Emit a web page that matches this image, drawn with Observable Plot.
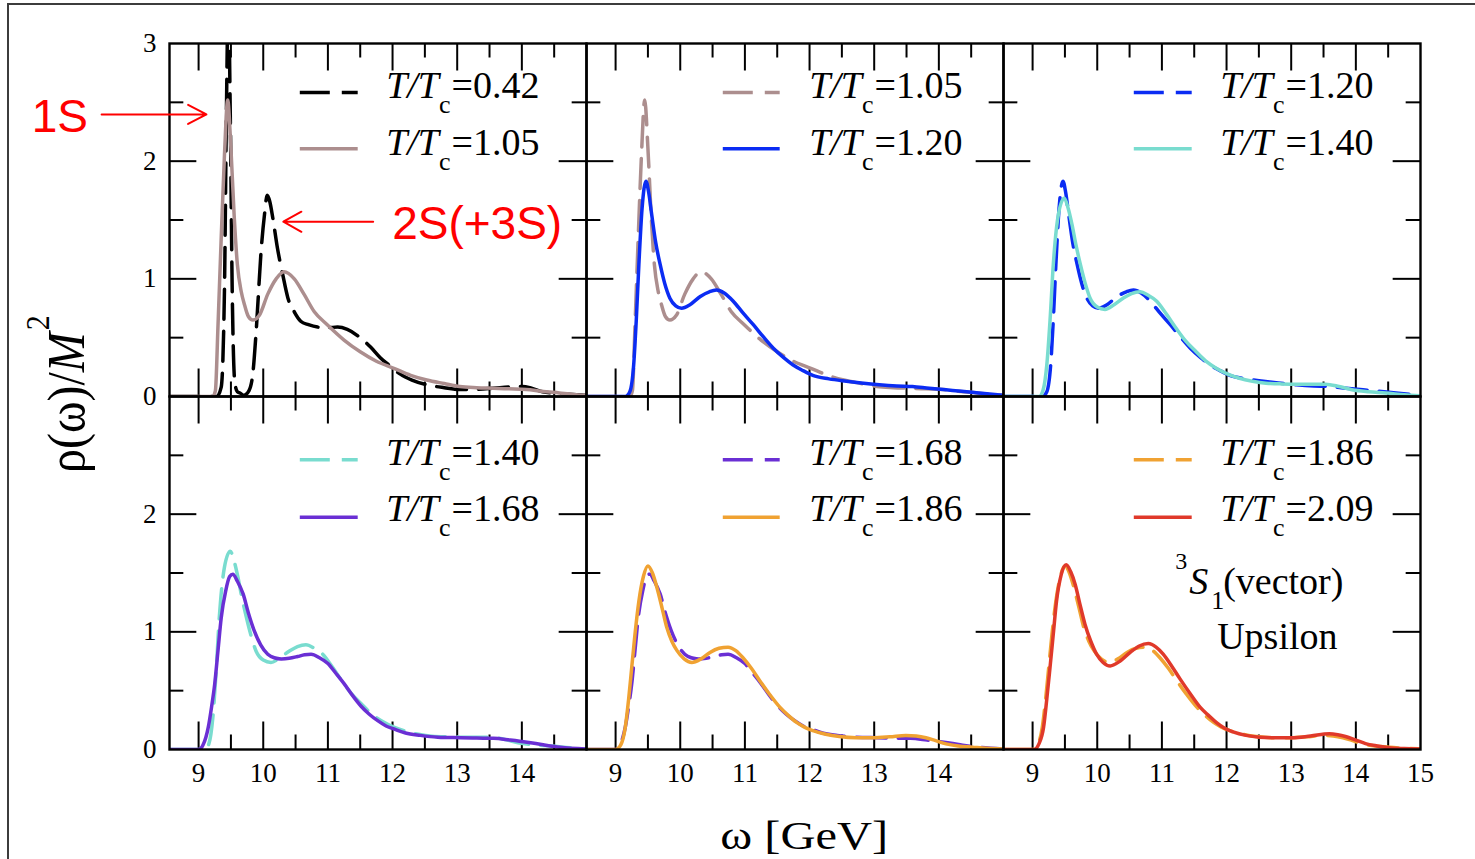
<!DOCTYPE html>
<html>
<head>
<meta charset="utf-8">
<script src="https://cdn.jsdelivr.net/npm/d3@7"></script>
<script src="https://cdn.jsdelivr.net/npm/@observablehq/plot@0.6"></script>
<style>
html, body { margin: 0; padding: 0; background: #fff; }
#wrap { position: relative; width: 1475px; height: 859px; overflow: hidden; background: #fff; }
#chart { position: absolute; left: 0; top: 0; }
#border { position: absolute; left: 7px; top: 3px; width: 2000px; height: 2000px; border-top: 2px solid #3c3c3c; border-left: 2px solid #3c3c3c; pointer-events: none; }
</style>
</head>
<body>
<div id="wrap"><div id="chart"></div><div id="border"></div></div>
<script>
// ---------------- data ----------------
const tempLabels   = ["0.42", "1.05", "1.20", "1.40", "1.68", "1.86", "2.09"];
const seriesColors = ["#000000", "#ac8e8e", "#0b2cf3", "#79dccf", "#6a2fd4", "#f0a232", "#e0392a"];

const omega042 = [8.55, 9.28, 9.35, 9.40, 9.43, 9.46, 9.49, 9.52, 9.56, 9.60, 9.64, 9.70, 9.78, 9.84, 9.89, 9.97, 10.02, 10.06, 10.10, 10.15, 10.22, 10.30, 10.38, 10.48, 10.58, 10.70, 10.84, 11.00, 11.15, 11.30, 11.50, 11.66, 11.81, 11.96, 12.12, 12.30, 12.53, 12.80, 13.04, 13.30, 13.55, 13.80, 14.01, 14.15, 14.32, 14.60, 14.85, 15.0];
const rho042   = [0, 0, 0.08, 0.9, 2.4, 3.4, 2.4, 0.9, 0.12, 0.04, 0.03, 0.01, 0.05, 0.2, 0.55, 1.26, 1.55, 1.71, 1.66, 1.51, 1.26, 1.04, 0.84, 0.72, 0.64, 0.61, 0.59, 0.585, 0.59, 0.57, 0.50, 0.42, 0.33, 0.26, 0.19, 0.14, 0.10, 0.075, 0.06, 0.062, 0.07, 0.08, 0.085, 0.07, 0.04, 0.025, 0.015, 0.01];

const omega105 = [8.55, 9.22, 9.26, 9.30, 9.35, 9.40, 9.45, 9.50, 9.55, 9.60, 9.66, 9.71, 9.77, 9.84, 9.94, 10.07, 10.20, 10.32, 10.48, 10.63, 10.79, 10.99, 11.25, 11.50, 11.75, 12.02, 12.28, 12.53, 12.80, 13.04, 13.30, 13.55, 13.80, 14.07, 14.30, 14.58, 14.80, 15.0];
const rho105   = [0, 0, 0.05, 0.6, 1.35, 2.05, 2.52, 2.11, 1.54, 1.12, 0.89, 0.78, 0.68, 0.65, 0.69, 0.87, 1.0, 1.06, 1.0, 0.87, 0.72, 0.61, 0.48, 0.38, 0.30, 0.24, 0.18, 0.14, 0.11, 0.085, 0.075, 0.07, 0.065, 0.06, 0.045, 0.03, 0.018, 0.01];

const omega120 = [8.55, 9.15, 9.22, 9.28, 9.32, 9.36, 9.41, 9.47, 9.51, 9.56, 9.62, 9.69, 9.76, 9.84, 9.93, 10.02, 10.15, 10.31, 10.45, 10.56, 10.68, 10.82, 10.97, 11.13, 11.28, 11.44, 11.60, 11.74, 11.90, 12.05, 12.30, 12.57, 12.80, 13.08, 13.35, 13.59, 13.85, 14.11, 14.35, 14.62, 15.0];
const rho120   = [0, 0, 0.04, 0.27, 0.65, 1.12, 1.60, 1.83, 1.74, 1.54, 1.31, 1.12, 0.96, 0.835, 0.77, 0.75, 0.78, 0.85, 0.89, 0.905, 0.88, 0.81, 0.71, 0.61, 0.51, 0.41, 0.33, 0.27, 0.22, 0.18, 0.15, 0.13, 0.115, 0.10, 0.09, 0.085, 0.07, 0.057, 0.045, 0.03, 0.01];

const omega140 = [8.55, 9.10, 9.16, 9.22, 9.27, 9.32, 9.40, 9.49, 9.55, 9.61, 9.67, 9.74, 9.81, 9.89, 10.00, 10.12, 10.26, 10.40, 10.53, 10.66, 10.79, 10.92, 11.07, 11.22, 11.37, 11.53, 11.68, 11.84, 12.02, 12.20, 12.40, 12.61, 12.85, 13.12, 13.33, 13.53, 13.74, 13.94, 14.20, 14.46, 14.75, 15.0];
const rho140   = [0, 0, 0.05, 0.27, 0.65, 1.12, 1.55, 1.685, 1.60, 1.46, 1.29, 1.12, 0.97, 0.835, 0.76, 0.74, 0.78, 0.835, 0.875, 0.89, 0.86, 0.81, 0.70, 0.58, 0.47, 0.38, 0.30, 0.24, 0.19, 0.155, 0.13, 0.113, 0.107, 0.105, 0.105, 0.105, 0.085, 0.057, 0.04, 0.03, 0.015, 0.005];

const omega168 = [8.55, 9.00, 9.07, 9.15, 9.20, 9.25, 9.30, 9.35, 9.42, 9.48, 9.53, 9.60, 9.69, 9.77, 9.86, 9.96, 10.07, 10.17, 10.28, 10.40, 10.53, 10.64, 10.74, 10.87, 11.00, 11.12, 11.25, 11.38, 11.51, 11.64, 11.77, 11.90, 12.02, 12.20, 12.43, 12.70, 13.05, 13.30, 13.56, 13.82, 14.08, 14.33, 14.59, 15.0];
const rho168   = [0, 0, 0.04, 0.19, 0.36, 0.56, 0.84, 1.12, 1.35, 1.47, 1.49, 1.43, 1.32, 1.16, 1.01, 0.89, 0.81, 0.78, 0.77, 0.775, 0.79, 0.805, 0.81, 0.78, 0.73, 0.65, 0.56, 0.46, 0.37, 0.30, 0.245, 0.20, 0.175, 0.14, 0.12, 0.105, 0.10, 0.097, 0.095, 0.08, 0.062, 0.04, 0.02, 0.005];

const omega186 = [8.55, 9.00, 9.08, 9.15, 9.20, 9.25, 9.30, 9.36, 9.43, 9.50, 9.57, 9.64, 9.72, 9.79, 9.87, 9.95, 10.06, 10.18, 10.32, 10.46, 10.60, 10.74, 10.86, 10.97, 11.10, 11.23, 11.38, 11.54, 11.67, 11.80, 11.92, 12.05, 12.25, 12.46, 12.72, 12.98, 13.24, 13.49, 13.65, 13.80, 13.95, 14.11, 14.30, 14.52, 14.75, 15.0];
const rho186   = [0, 0, 0.04, 0.19, 0.42, 0.70, 0.98, 1.26, 1.47, 1.56, 1.50, 1.375, 1.20, 1.04, 0.92, 0.84, 0.77, 0.74, 0.77, 0.825, 0.86, 0.87, 0.84, 0.78, 0.69, 0.585, 0.47, 0.36, 0.29, 0.23, 0.19, 0.16, 0.13, 0.11, 0.10, 0.10, 0.108, 0.12, 0.115, 0.10, 0.075, 0.048, 0.03, 0.02, 0.01, 0.005];

const omega209 = [8.55, 9.02, 9.10, 9.17, 9.22, 9.27, 9.32, 9.37, 9.44, 9.52, 9.59, 9.66, 9.73, 9.81, 9.90, 9.99, 10.09, 10.20, 10.35, 10.51, 10.65, 10.79, 10.91, 11.02, 11.15, 11.28, 11.43, 11.59, 11.72, 11.84, 11.97, 12.10, 12.30, 12.51, 12.76, 13.02, 13.30, 13.59, 13.72, 13.84, 14.00, 14.15, 14.33, 14.51, 14.75, 15.0];
const rho209   = [0, 0, 0.05, 0.19, 0.43, 0.70, 0.98, 1.26, 1.48, 1.57, 1.51, 1.40, 1.24, 1.065, 0.92, 0.81, 0.74, 0.71, 0.75, 0.825, 0.88, 0.90, 0.87, 0.81, 0.71, 0.60, 0.48, 0.36, 0.29, 0.23, 0.18, 0.15, 0.12, 0.105, 0.10, 0.10, 0.115, 0.133, 0.125, 0.11, 0.08, 0.05, 0.03, 0.015, 0.008, 0.005];

// panels: column, row, dashed series, solid series
const panelCols   = [0, 1, 2, 0, 1, 2];
const panelRows   = [0, 0, 0, 1, 1, 1];
const panelDashed = ["0.42", "1.05", "1.20", "1.40", "1.68", "1.86"];
const panelSolid  = ["1.05", "1.20", "1.40", "1.68", "1.86", "2.09"];

// axes
const xMajorTicks = [9, 10, 11, 12, 13, 14];
const xMinorTicks = [9.5, 10.5, 11.5, 12.5, 13.5, 14.5];
const yMajorTicks = [1, 2];
const yMinorTicks = [0.5, 1.5, 2.5];
const xTickLabels = [9, 10, 11, 12, 13, 14];
const xLastLabel  = [15];
const yTickLabelsTop    = [0, 1, 2, 3];
const yTickLabelsBottom = [0, 1, 2];

// texts
const annotationLabels = ["1S", "2S(+3S)"];
const stateLabels = ["3", "S", "1", "(vector)", "Upsilon"];
const xAxisLabel = "ω [GeV]";
const yAxisLabelParts = ["ρ(ω)/", "M", "2"];
const legendPrefix = ["T/T", "c", "="];

// ---------------- layout ----------------
const W = 1475, H = 859;
const mL = 168, mR = 54, mT = 42, mB = 110;
const xDomain = [8.55, 15], yDomain = [0, 3];
const fw = (W - mL - mR) / 3, fh = (H - mT - mB) / 2;
const px2x = p => xDomain[0] + p * (xDomain[1] - xDomain[0]) / fw;
const px2y = p => yDomain[1] - p * (yDomain[1] - yDomain[0]) / fh;

const serif = "'Liberation Serif', 'Times New Roman', Times, serif";
const sans = "'Liberation Sans', Arial, Helvetica, sans-serif";

const ctx = document.createElement("canvas").getContext("2d");
function tw(str, font) { ctx.font = font; return ctx.measureText(str).width; }

const series = {
  "0.42": [omega042, rho042], "1.05": [omega105, rho105], "1.20": [omega120, rho120],
  "1.40": [omega140, rho140], "1.68": [omega168, rho168], "1.86": [omega186, rho186],
  "2.09": [omega209, rho209]
};
const colorOf = Object.fromEntries(tempLabels.map((t, i) => [t, seriesColors[i]]));

const curveRows = [];
const legendRows = [];
panelCols.forEach((c, i) => {
  const r = panelRows[i];
  [["dashed", panelDashed[i]], ["solid", panelSolid[i]]].forEach(([style, t], k) => {
    const [om, rh] = series[t];
    om.forEach((w, j) => curveRows.push({fx: c, fy: r, style, key: i + style, T: t, color: colorOf[t], omega: w, rho: rh[j]}));
    legendRows.push({fx: c, fy: r, row: k, style, T: t, color: colorOf[t]});
  });
});

const xLabelRows = [];
[0, 1, 2].forEach(c => xTickLabels.forEach(v => xLabelRows.push({fx: c, fy: 1, v})));
xLastLabel.forEach(v => xLabelRows.push({fx: 2, fy: 1, v}));
const yLabelRows = [
  ...yTickLabelsTop.map(v => ({fx: 0, fy: 0, v})),
  ...yTickLabelsBottom.map(v => ({fx: 0, fy: 1, v}))
];

// legend geometry (pixels relative to each facet)
const legendSampleY = (fy, row) => (fy === 0 ? [49, 105.3] : [63.3, 121])[row];
const legendBaseY   = (fy, row) => (fy === 0 ? [54.7, 111.3] : [68.3, 125])[row];
const legendSampleX0 = [131, 137, 131], legendSampleX1 = [189, 194, 189], legendTextX = [217, 223, 217];

const legFont = 38, subFont = 26;
const wTT = tw(legendPrefix[0], `italic ${legFont}px ${serif}`);
const wc = tw(legendPrefix[1], `${subFont}px ${serif}`);

function txt(fx, fy, relX, relY, str, opts = {}) {
  return Plot.text([{fx, fy, str}], {
    fx: "fx", fy: "fy", x: () => px2x(relX), y: () => px2y(relY), text: "str",
    textAnchor: "start", lineAnchor: "bottom", fill: "#000", fontFamily: serif, ...opts
  });
}

// y-axis label geometry (facet 0,0): baseline at screen x=82, starting at screen y=472
const yLabFont = 48;
const wRho = tw(yAxisLabelParts[0], `${yLabFont}px ${serif}`);
const wM = tw(yAxisLabelParts[1], `italic ${yLabFont}px ${serif}`);
const yLabBaseRel = 82 - mL, yLabStartRel = 472 - mT;

// x-axis label: 40px, stretched to span about 168px
const xLabFont = 40;
const xLabStretch = Math.max(1, Math.min(1.45, 168 / tw(xAxisLabel, `${xLabFont}px ${serif}`)));

const dashes = "30,12";
const lw = 3.5;

const marks = [
  // ticks (inward, on all four sides of every panel)
  Plot.ruleX(xMajorTicks, {x: d => d, insetTop: fh - 28, stroke: "#000", strokeWidth: 2}),
  Plot.ruleX(xMajorTicks, {x: d => d, insetBottom: fh - 28, stroke: "#000", strokeWidth: 2}),
  Plot.ruleX(xMinorTicks, {x: d => d, insetTop: fh - 15, stroke: "#000", strokeWidth: 2}),
  Plot.ruleX(xMinorTicks, {x: d => d, insetBottom: fh - 15, stroke: "#000", strokeWidth: 2}),
  Plot.ruleY(yMajorTicks, {y: d => d, insetRight: fw - 28, stroke: "#000", strokeWidth: 2}),
  Plot.ruleY(yMajorTicks, {y: d => d, insetLeft: fw - 28, stroke: "#000", strokeWidth: 2}),
  Plot.ruleY(yMinorTicks, {y: d => d, insetRight: fw - 15, stroke: "#000", strokeWidth: 2}),
  Plot.ruleY(yMinorTicks, {y: d => d, insetLeft: fw - 15, stroke: "#000", strokeWidth: 2}),

  // curves
  Plot.line(curveRows.filter(d => d.style === "dashed"), {
    x: "omega", y: "rho", z: "key", stroke: "color", fx: "fx", fy: "fy",
    strokeWidth: lw, strokeDasharray: dashes, curve: "monotone-x", clip: true
  }),
  Plot.line(curveRows.filter(d => d.style === "solid"), {
    x: "omega", y: "rho", z: "key", stroke: "color", fx: "fx", fy: "fy",
    strokeWidth: lw, curve: "monotone-x", clip: true
  }),

  Plot.frame({stroke: "#000", strokeWidth: 2.4}),

  // legends
  Plot.ruleY(legendRows.filter(d => d.style === "dashed"), {
    fx: "fx", fy: "fy", y: d => px2y(legendSampleY(d.fy, d.row)),
    x1: d => px2x(legendSampleX0[d.fx]), x2: d => px2x(legendSampleX1[d.fx]),
    stroke: "color", strokeWidth: lw, strokeDasharray: dashes
  }),
  Plot.ruleY(legendRows.filter(d => d.style === "solid"), {
    fx: "fx", fy: "fy", y: d => px2y(legendSampleY(d.fy, d.row)),
    x1: d => px2x(legendSampleX0[d.fx]), x2: d => px2x(legendSampleX1[d.fx]),
    stroke: "color", strokeWidth: lw
  }),
  Plot.text(legendRows, {
    fx: "fx", fy: "fy", x: d => px2x(legendTextX[d.fx]), y: d => px2y(legendBaseY(d.fy, d.row)),
    text: () => legendPrefix[0], fontStyle: "italic", fontSize: legFont, fontFamily: serif,
    textAnchor: "start", lineAnchor: "bottom", fill: "#000"
  }),
  Plot.text(legendRows, {
    fx: "fx", fy: "fy", x: d => px2x(legendTextX[d.fx]), y: d => px2y(legendBaseY(d.fy, d.row) + 15),
    dx: wTT, text: () => legendPrefix[1], fontSize: subFont, fontFamily: serif,
    textAnchor: "start", lineAnchor: "bottom", fill: "#000"
  }),
  Plot.text(legendRows, {
    fx: "fx", fy: "fy", x: d => px2x(legendTextX[d.fx]), y: d => px2y(legendBaseY(d.fy, d.row)),
    dx: wTT + wc + 1, text: d => legendPrefix[2] + d.T, fontSize: legFont, fontFamily: serif,
    textAnchor: "start", lineAnchor: "bottom", fill: "#000"
  }),

  // tick labels
  Plot.text(xLabelRows, {
    fx: "fx", fy: "fy", x: "v", text: d => String(d.v), frameAnchor: "bottom", dy: 32,
    fontSize: 27, fontFamily: serif, fill: "#000", textAnchor: "middle"
  }),
  Plot.text(yLabelRows, {
    fx: "fx", fy: "fy", y: "v", text: d => String(d.v), frameAnchor: "left", dx: -13,
    fontSize: 27, fontFamily: serif, fill: "#000", textAnchor: "end"
  }),

  // axis labels
  txt(1, 1, 804 - 586, 848 - 395, xAxisLabel, {fontSize: xLabFont, textAnchor: "middle"}),
  txt(0, 0, yLabBaseRel, yLabStartRel, yAxisLabelParts[0], {fontSize: yLabFont, rotate: -90}),
  txt(0, 0, yLabBaseRel, yLabStartRel - wRho, yAxisLabelParts[1], {fontSize: yLabFont, fontStyle: "italic", rotate: -90}),
  txt(0, 0, 47 - mL, yLabStartRel - wRho - wM - 2, yAxisLabelParts[2], {fontSize: 30, rotate: -90}),

  // red annotations (panel 0,0)
  txt(0, 0, 30 - mL, 131 - mT, annotationLabels[0], {fontSize: 46, fontFamily: sans, fill: "#ff0000"}),
  txt(0, 0, 391 - mL, 238 - mT, annotationLabels[1], {fontSize: 46, fontFamily: sans, fill: "#ff0000"}),
  Plot.arrow([{fx: 0, fy: 0}], {
    fx: "fx", fy: "fy",
    x1: () => px2x(100 - mL), y1: () => px2y(113 - mT), x2: () => px2x(205 - mL), y2: () => px2y(113 - mT),
    stroke: "#ff0000", strokeWidth: 2, headLength: 15.5, headAngle: 55
  }),
  Plot.arrow([{fx: 0, fy: 0}], {
    fx: "fx", fy: "fy",
    x1: () => px2x(372 - mL), y1: () => px2y(220.5 - mT), x2: () => px2x(282 - mL), y2: () => px2y(220.5 - mT),
    stroke: "#ff0000", strokeWidth: 2, headLength: 15.5, headAngle: 58
  }),

  // state label (panel 2,1)
  txt(2, 1, 1175 - 1003, 568 - 395, stateLabels[0], {fontSize: 24}),
  txt(2, 1, 1189 - 1003, 593 - 395, stateLabels[1], {fontSize: 38, fontStyle: "italic"}),
  txt(2, 1, 1211 - 1003, 608 - 395, stateLabels[2], {fontSize: 26}),
  txt(2, 1, 1223 - 1003, 593 - 395, stateLabels[3], {fontSize: 38}),
  txt(2, 1, 1217 - 1003, 648 - 395, stateLabels[4], {fontSize: 38})
];

const chart = Plot.plot({
  width: W, height: H,
  marginLeft: mL, marginRight: mR, marginTop: mT, marginBottom: mB,
  style: {background: "transparent", fontFamily: serif},
  x: {domain: xDomain, axis: null},
  y: {domain: yDomain, axis: null},
  fx: {domain: [0, 1, 2], padding: 0, axis: null},
  fy: {domain: [0, 1], padding: 0, axis: null},
  color: {type: "identity"},
  marks
});

// stretch the axis-label glyphs (the reference renders them wider than tall)
function stretchText(el, sx, sy) {
  const tr = el.getAttribute("transform");
  if (tr && /translate/.test(tr)) {
    el.setAttribute("transform", `${tr} scale(${sx},${sy})`);
  } else {
    const x = parseFloat(el.getAttribute("x")) || 0, y = parseFloat(el.getAttribute("y")) || 0;
    el.setAttribute("transform", `${tr || ""} translate(${x},${y}) scale(${sx},${sy}) translate(${-x},${-y})`);
  }
}
chart.querySelectorAll("text").forEach(t => {
  const s = t.textContent;
  const tr = t.getAttribute("transform") || "";
  if (s === xAxisLabel) stretchText(t, xLabStretch, 1);
  else if (yAxisLabelParts.includes(s) && /rotate/.test(tr)) stretchText(t, 1, 1.1);
});

document.getElementById("chart").appendChild(chart);
</script>
</body>
</html>
